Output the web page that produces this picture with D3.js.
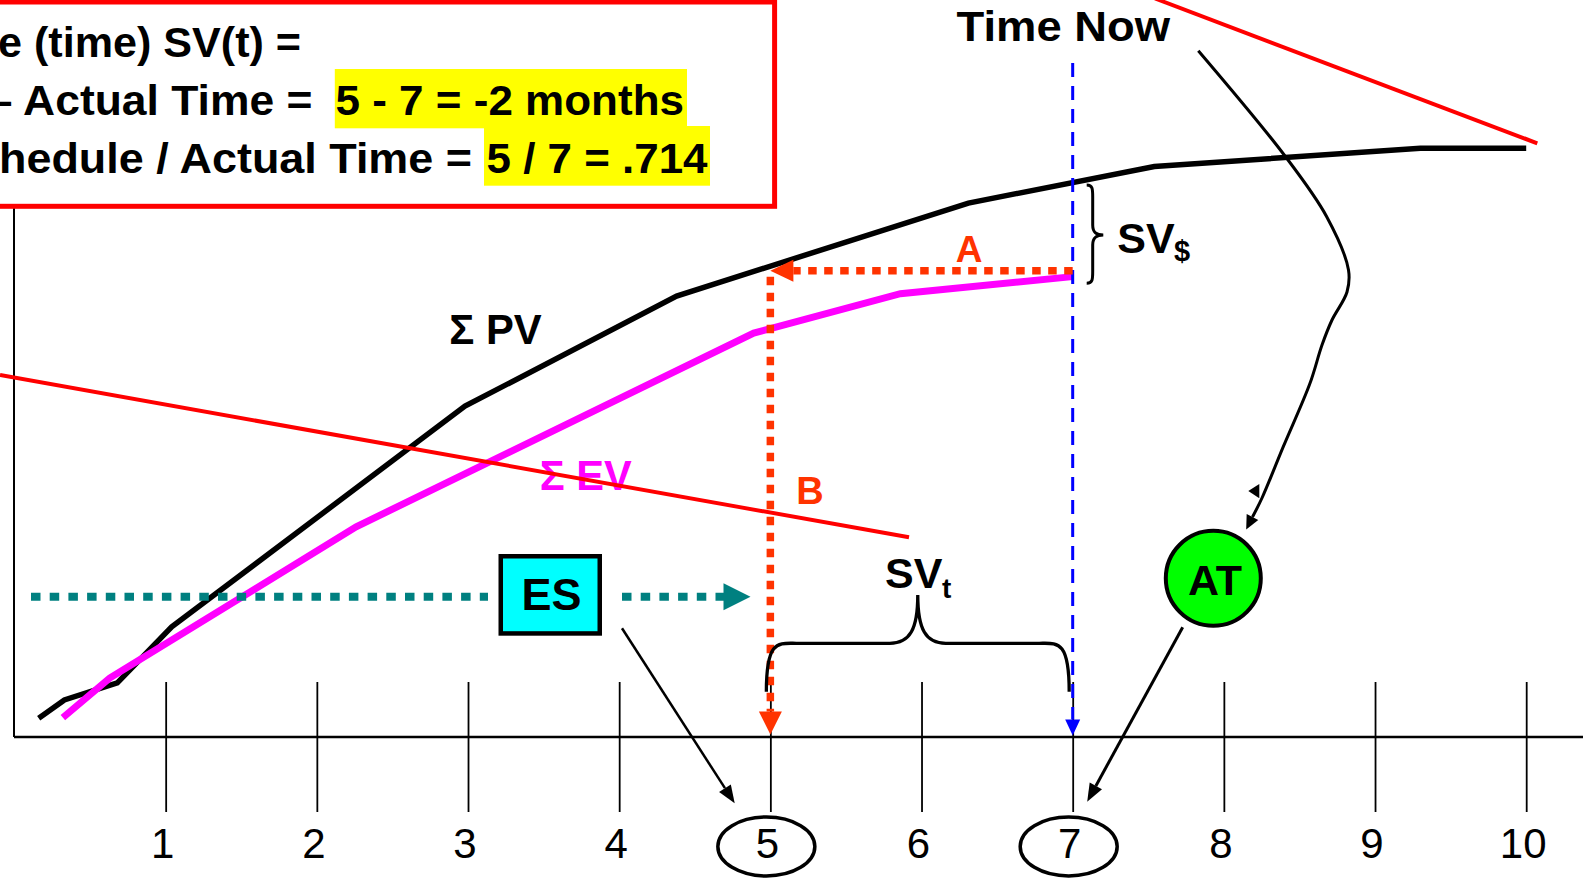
<!DOCTYPE html>
<html>
<head>
<meta charset="utf-8">
<script src="https://cdn.jsdelivr.net/npm/d3@7"></script>
<style>
  html, body { margin: 0; padding: 0; background: #fff; overflow: hidden; }
  svg { display: block; font-family: "Liberation Sans", Arial, sans-serif; }
</style>
</head>
<body>
<script>
// Earned schedule illustration: cumulative planned value vs earned value over months.
const months = [1, 2, 3, 4, 5, 6, 7, 8, 9, 10];
const tickLabels = ["1", "2", "3", "4", "5", "6", "7", "8", "9", "10"];
const circledMonths = [5, 7];

// Cumulative planned value (Σ PV), month / percent of budget
const pvMonth = [0.16, 0.33, 0.68, 1.04, 2.98, 4.38, 6.31, 7.54, 9.30, 10.0];
const pvValue = [3.2, 6.3, 9.2, 18.7, 56.2, 74.9, 90.7, 96.9, 100, 100];

// Cumulative earned value (Σ EV)
const evMonth = [0.32, 0.63, 2.26, 4.89, 5.86, 7.0];
const evValue = [3.3, 10.0, 35.7, 68.6, 75.3, 78.2];

const earnedSchedule = 5;   // ES
const actualTime = 7;       // AT / time now
const evNowLevel = 79.2;    // EV level carried back to the PV curve

const noteText = ["e (time) SV(t) =", "– Actual Time =", "hedule / Actual Time ="];
const noteResult = [null, "5 - 7 = -2 months", "5 / 7 = .714"];

const W = 1583, H = 878;
const svg = d3.select("body").append("svg").attr("width", W).attr("height", H);
svg.append("rect").attr("width", W).attr("height", H).attr("fill", "#fff");

const x = d3.scaleLinear().domain([0, 10]).range([14.5, 1526.2]);
const y = d3.scaleLinear().domain([0, 100]).range([737, 148.3]);
const axisY = y(0);

const ORANGE = "#ff3300", TEAL = "#008080";

function arrowHead(g, tip, from, len, hw, color) {
  const dx = tip[0] - from[0], dy = tip[1] - from[1];
  const L = Math.hypot(dx, dy), ux = dx / L, uy = dy / L;
  const bx = tip[0] - ux * len, by = tip[1] - uy * len;
  g.append("path")
    .attr("d", `M${tip[0]},${tip[1]}L${bx - uy * hw},${by + ux * hw}L${bx + uy * hw},${by - ux * hw}Z`)
    .attr("fill", color);
  return [bx, by];
}

// vertical axis line
svg.append("line").attr("x1", 14).attr("x2", 14).attr("y1", 0).attr("y2", axisY)
  .attr("stroke", "#000").attr("stroke-width", 2);

// formula box
const box = svg.append("g");
box.append("rect").attr("x", -20).attr("y", 2).attr("width", 794.6).attr("height", 204.3)
  .attr("fill", "#fff").attr("stroke", "#ff0000").attr("stroke-width", 5);
const hlRects = [null, [334.8, 69, 352.2, 59.3], [484, 126, 226, 59.7]];
const lineBase = [57, 115, 172.7];
const lineStart = [-2, -12.3, -1];
const lineLen = [303, 324.7, 473];
const resStart = [null, 335.5, 486.5];
const resLen = [null, 348.5, 221];
noteText.forEach((t, i) => {
  if (hlRects[i]) {
    const r = hlRects[i];
    box.append("rect").attr("x", r[0]).attr("y", r[1]).attr("width", r[2]).attr("height", r[3])
      .attr("fill", "#ffff00");
  }
  box.append("text").attr("x", lineStart[i]).attr("y", lineBase[i])
    .attr("font-size", 42).attr("font-weight", "bold")
    .attr("textLength", lineLen[i]).attr("lengthAdjust", "spacingAndGlyphs").text(t);
  if (noteResult[i]) {
    box.append("text").attr("x", resStart[i]).attr("y", lineBase[i])
      .attr("font-size", 42).attr("font-weight", "bold")
      .attr("textLength", resLen[i]).attr("lengthAdjust", "spacingAndGlyphs").text(noteResult[i]);
  }
});

// horizontal axis with ticks crossing the line
svg.append("line").attr("x1", 14).attr("x2", W).attr("y1", axisY).attr("y2", axisY)
  .attr("stroke", "#000").attr("stroke-width", 2.5);
const xAxis = d3.axisBottom(x).tickValues(months).tickSize(75)
  .tickFormat((d, i) => tickLabels[i]);
const gx = svg.append("g").attr("transform", `translate(0,${axisY})`).call(xAxis);
gx.select(".domain").remove();
gx.selectAll(".tick line").attr("y1", -55).attr("stroke", "#000").attr("stroke-width", 1.8);
gx.selectAll(".tick text").attr("y", 121).attr("dy", 0).attr("x", -3.5)
  .attr("font-size", 42).attr("font-family", "'Liberation Sans', Arial, sans-serif")
  .attr("fill", "#000");

svg.selectAll("ellipse.circled").data(circledMonths).join("ellipse")
  .attr("class", "circled")
  .attr("cx", d => x(d) - 4).attr("cy", 846.5).attr("rx", 48.5).attr("ry", 29.5)
  .attr("fill", "none").attr("stroke", "#000").attr("stroke-width", 3.5);

// cumulative curves
const line = d3.line().x(d => x(d[0])).y(d => y(d[1]));
svg.append("path").datum(d3.zip(pvMonth, pvValue)).attr("d", line)
  .attr("fill", "none").attr("stroke", "#000").attr("stroke-width", 5.5);
svg.append("path").datum(d3.zip(evMonth, evValue)).attr("d", line)
  .attr("fill", "none").attr("stroke", "#ff00ff").attr("stroke-width", 7);

svg.append("text").attr("x", 449.3).attr("y", 344).attr("font-size", 43).attr("font-weight", "bold")
  .attr("textLength", 92.4).attr("lengthAdjust", "spacingAndGlyphs").text("Σ PV");
svg.append("text").attr("x", 539.7).attr("y", 490).attr("font-size", 43).attr("font-weight", "bold")
  .attr("fill", "#ff00ff")
  .attr("textLength", 92).attr("lengthAdjust", "spacingAndGlyphs").text("Σ EV");

// red callout lines
svg.append("line").attr("x1", 0).attr("y1", 375).attr("x2", 909).attr("y2", 537.3)
  .attr("stroke", "#ff0000").attr("stroke-width", 4);
svg.append("line").attr("x1", 1155).attr("y1", -1.5).attr("x2", 1537.3).attr("y2", 143.3)
  .attr("stroke", "#ff0000").attr("stroke-width", 4);

// Time Now marker
const xNow = x(actualTime), xEs = x(earnedSchedule);
svg.append("text").attr("x", 956.6).attr("y", 40.7).attr("font-size", 43).attr("font-weight", "bold")
  .attr("textLength", 213.5).attr("lengthAdjust", "spacingAndGlyphs").text("Time Now");
const blueBase = arrowHead(svg, [xNow, axisY - 1.5], [xNow, 60], 16, 7.5, "#0000ff");
svg.append("line").attr("x1", xNow).attr("x2", xNow).attr("y1", 63).attr("y2", blueBase[1])
  .attr("stroke", "#0000ff").attr("stroke-width", 3).attr("stroke-dasharray", "14,9");

// A: earned value carried back to planned value; B: down to the time axis
const yLevel = y(evNowLevel);
const aBase = arrowHead(svg, [xEs, yLevel], [xNow, yLevel], 23, 11, ORANGE);
svg.append("line").attr("x1", xNow).attr("x2", aBase[0]).attr("y1", yLevel).attr("y2", yLevel)
  .attr("stroke", ORANGE).attr("stroke-width", 7.5).attr("stroke-dasharray", "8.5,7.5");
const bBase = arrowHead(svg, [xEs, axisY - 2.5], [xEs, yLevel], 23, 11.5, ORANGE);
svg.append("line").attr("x1", xEs).attr("x2", xEs).attr("y1", yLevel + 6).attr("y2", bBase[1])
  .attr("stroke", ORANGE).attr("stroke-width", 7.5).attr("stroke-dasharray", "8.5,7.5");
svg.append("text").attr("x", 969).attr("y", 261.7).attr("text-anchor", "middle")
  .attr("font-size", 37).attr("font-weight", "bold").attr("fill", ORANGE).text("A");
svg.append("text").attr("x", 810).attr("y", 504).attr("text-anchor", "middle")
  .attr("font-size", 38).attr("font-weight", "bold").attr("fill", ORANGE).text("B");

// SV$ brace
const bx0 = 1086.7, bxm = 1092.7, bxt = 1103.3, by1 = 185, by2 = 283.3, bym = 235;
svg.append("path")
  .attr("d", `M${bx0},${by1} C${bxm},${by1} ${bxm},${by1 + 4} ${bxm},${by1 + 12}
    L${bxm},${bym - 10} C${bxm},${bym - 2} ${bxm + 4},${bym} ${bxt},${bym}
    C${bxm + 4},${bym} ${bxm},${bym + 2} ${bxm},${bym + 10}
    L${bxm},${by2 - 12} C${bxm},${by2 - 4} ${bxm},${by2} ${bx0},${by2}`)
  .attr("fill", "none").attr("stroke", "#000").attr("stroke-width", 3);
const sv$ = svg.append("text").attr("x", 1117.3).attr("y", 252.7)
  .attr("font-size", 43).attr("font-weight", "bold");
sv$.append("tspan").text("SV");
sv$.append("tspan").attr("x", 1174).attr("y", 261).attr("font-size", 29).text("$");

// SVt brace between ES and AT
const lx = xEs - 4, rx = xNow - 3.5, byEnd = 691.7, byLev = 643.3, pk = (lx + rx) / 2, pky = 595;
svg.append("path")
  .attr("d", `M${lx},${byEnd} C${lx},${byLev - 4} ${lx + 12},${byLev} ${lx + 30},${byLev}
    L${pk - 28},${byLev} C${pk - 8},${byLev} ${pk},${byLev - 14} ${pk},${pky}
    C${pk},${byLev - 14} ${pk + 8},${byLev} ${pk + 28},${byLev}
    L${rx - 30},${byLev} C${rx - 12},${byLev} ${rx},${byLev - 4} ${rx},${byEnd}`)
  .attr("fill", "none").attr("stroke", "#000").attr("stroke-width", 3.3);
const svt = svg.append("text").attr("x", 885).attr("y", 588.3)
  .attr("font-size", 43).attr("font-weight", "bold");
svt.append("tspan").text("SV");
svt.append("tspan").attr("x", 942).attr("y", 598.3).attr("font-size", 28).text("t");

// ES indicator
const esY = 596.7;
svg.append("line").attr("x1", 31).attr("x2", 488).attr("y1", esY).attr("y2", esY)
  .attr("stroke", TEAL).attr("stroke-width", 8).attr("stroke-dasharray", "9.5,9.2");
const tBase = arrowHead(svg, [750.5, esY], [622, esY], 27, 13.5, TEAL);
svg.append("line").attr("x1", 622).attr("x2", tBase[0] + 1).attr("y1", esY).attr("y2", esY)
  .attr("stroke", TEAL).attr("stroke-width", 8).attr("stroke-dasharray", "9.5,9.2");
svg.append("rect").attr("x", 500.75).attr("y", 556.25).attr("width", 99).attr("height", 77.2)
  .attr("fill", "#00ffff").attr("stroke", "#000").attr("stroke-width", 4.5);
svg.append("text").attr("x", 551.5).attr("y", 610).attr("text-anchor", "middle")
  .attr("font-size", 45).attr("font-weight", "bold").text("ES");

// ES -> circled 5
const esTip = [734.7, 803.3], esFrom = [622, 628.3];
const esB = arrowHead(svg, esTip, esFrom, 18, 7, "#000");
svg.append("line").attr("x1", esFrom[0]).attr("y1", esFrom[1]).attr("x2", esB[0]).attr("y2", esB[1])
  .attr("stroke", "#000").attr("stroke-width", 2.5);

// AT marker
svg.append("circle").attr("cx", 1213.3).attr("cy", 578.3).attr("r", 47.5)
  .attr("fill", "#00ff00").attr("stroke", "#000").attr("stroke-width", 4);
svg.append("text").attr("x", 1215).attr("y", 595).attr("text-anchor", "middle")
  .attr("font-size", 43).attr("font-weight", "bold").text("AT");
const atTip = [1087.2, 801.7], atFrom = [1182.7, 627.3];
const atB = arrowHead(svg, atTip, atFrom, 18, 7, "#000");
svg.append("line").attr("x1", atFrom[0]).attr("y1", atFrom[1]).attr("x2", atB[0]).attr("y2", atB[1])
  .attr("stroke", "#000").attr("stroke-width", 3);

// Time Now -> AT curved connector
const curvePts = [[1198.3, 50.7], [1285, 156], [1326.7, 216.7], [1348.5, 270], [1347, 292],
  [1332, 320], [1322, 345], [1310, 383.3], [1283.3, 446.7], [1262, 498]];
const tipNow = [1246.2, 529.5];
const cB = arrowHead(svg, tipNow, [1262, 498], 14, 6.5, "#000");
svg.append("path").datum(curvePts.concat([cB]))
  .attr("d", d3.line().curve(d3.curveCatmullRom))
  .attr("fill", "none").attr("stroke", "#000").attr("stroke-width", 3);
svg.append("path").attr("d", "M1248.3,491 L1259.3,484 L1259.3,498.3 Z").attr("fill", "#000");
</script>
</body>
</html>
